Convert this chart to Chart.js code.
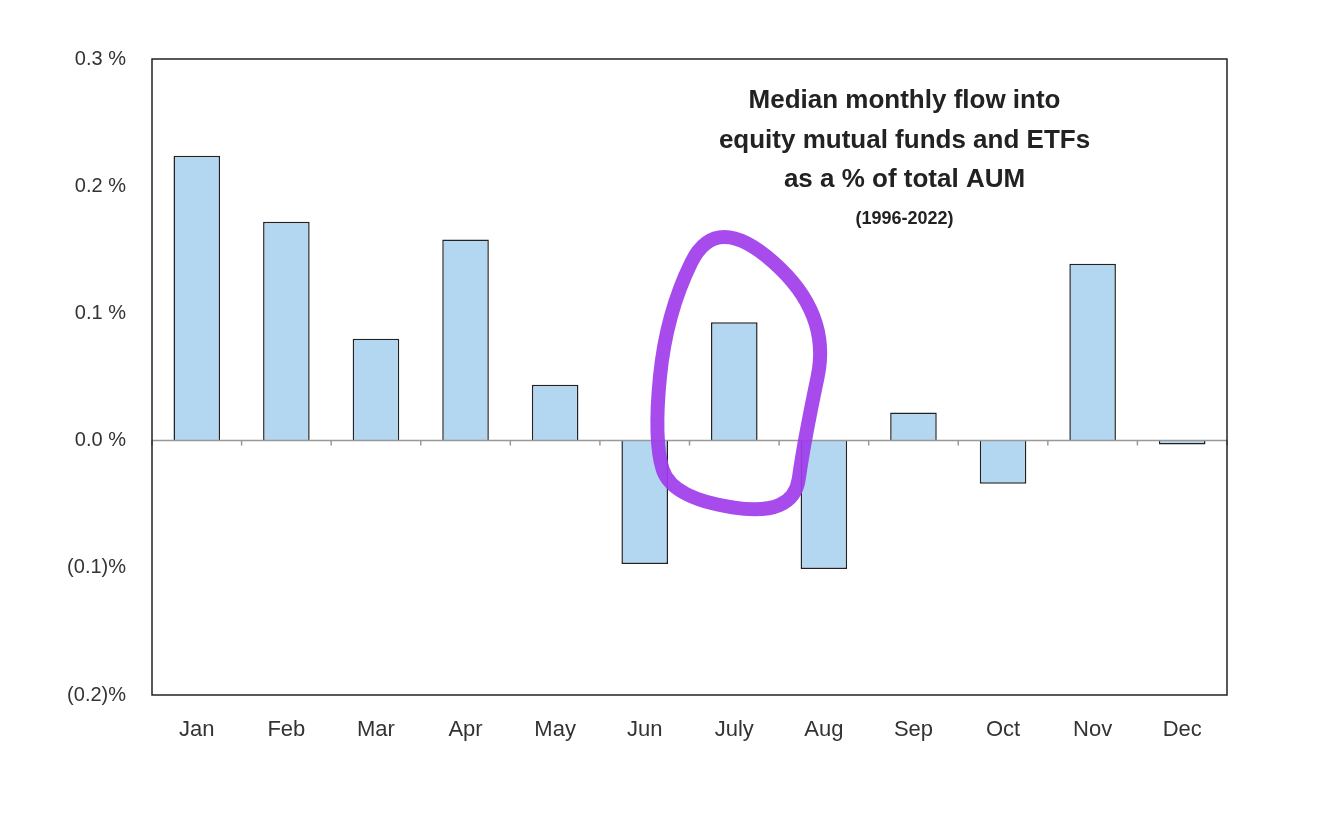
<!DOCTYPE html>
<html><head><meta charset="utf-8">
<script src="https://cdn.jsdelivr.net/npm/chart.js@4/dist/chart.umd.min.js"></script>
<style>html,body{margin:0;background:#fff}#wrap{width:1324px;height:824px}</style>
</head><body><div id="wrap"><canvas id="c"></canvas></div>
<script>
// median monthly flow, % of AUM
const months = ["Jan","Feb","Mar","Apr","May","Jun","July","Aug","Sep","Oct","Nov","Dec"];
const flows = [0.224,0.172,0.080,0.158,0.044,-0.097,0.093,-0.101,0.022,-0.034,0.139,-0.003];
const yTicks = [0.3,0.2,0.1,0.0,-0.1,-0.2];
const tickText = v => v<0 ? "("+Math.abs(v).toFixed(1)+")%" : v.toFixed(1)+" %";
const titleLines = ["Median monthly flow into","equity mutual funds and ETFs","as a % of total AUM"];
const subTitle = "(1996-2022)";

const frame = {
  id:"frame",
  afterDatasetsDraw(chart){
    const {ctx,chartArea:a,scales:{x,y}} = chart;
    ctx.save();
    // zero line ticks at category boundaries
    const y0=y.getPixelForValue(0), cw=x.getPixelForValue(1)-x.getPixelForValue(0);
    ctx.strokeStyle="#999";ctx.lineWidth=1.5;
    ctx.beginPath();ctx.moveTo(a.left,y0);ctx.lineTo(a.right,y0);
    for(let i=0;i<=months.length;i++){const px=x.getPixelForValue(i)-cw/2;ctx.moveTo(px,y0);ctx.lineTo(px,y0+5);}
    ctx.stroke();
    ctx.strokeStyle="#222";ctx.lineWidth=1.5;ctx.strokeRect(a.left,a.top,a.right-a.left,a.bottom-a.top);
    // title
    ctx.fillStyle="#222";ctx.textAlign="center";ctx.textBaseline="middle";
    ctx.font="bold 26px 'Liberation Sans', Arial";
    const tx=a.left+(a.right-a.left)*0.70;
    titleLines.forEach((t,i)=>ctx.fillText(t,tx,a.top+42+i*39.5));
    ctx.font="bold 18px 'Liberation Sans', Arial";
    ctx.fillText(subTitle,tx,a.top+160);
    // hand-drawn loop around July
    const j=months.indexOf("July"), cx=x.getPixelForValue(j);
    const pts=[[-0.2,0.18],[1.08,0.1],[0.78,0.0],[0.66,-0.06],[-0.70,-0.045],[-0.9,0.0],[-0.76,0.1]]
      .map(([dx,v])=>[cx+dx*cw,y.getPixelForValue(v)]);
    ctx.strokeStyle="rgba(160,60,235,0.92)";ctx.lineWidth=14;ctx.lineJoin="round";ctx.lineCap="round";
    ctx.beginPath();
    const n=pts.length, mid=(p,q)=>[(p[0]+q[0])/2,(p[1]+q[1])/2];
    let m=mid(pts[n-1],pts[0]);ctx.moveTo(m[0],m[1]);
    for(let i=0;i<n;i++){const q=mid(pts[i],pts[(i+1)%n]);ctx.quadraticCurveTo(pts[i][0],pts[i][1],q[0],q[1]);}
    ctx.stroke();
    ctx.restore();
  }
};

new Chart(document.getElementById("c"),{
  type:"bar",
  data:{labels:months,datasets:[{data:flows,backgroundColor:"#b3d7f1",borderColor:"#222",borderWidth:1.5,
    barPercentage:0.52,categoryPercentage:1}]},
  options:{responsive:true,maintainAspectRatio:false,animation:false,
    layout:{padding:{top:59,right:97,bottom:69,left:0}},
    plugins:{legend:{display:false},tooltip:{enabled:false}},
    scales:{
      x:{grid:{display:false},border:{display:false},
        ticks:{color:"#333",font:{family:"'Liberation Sans', Arial",size:22},padding:14},
        afterFit(s){s.height=60;}},
      y:{min:-0.2,max:0.3,grid:{display:false},border:{display:false},
        afterBuildTicks(s){s.ticks=yTicks.map(v=>({value:v}));},
        ticks:{color:"#333",font:{family:"'Liberation Sans', Arial",size:20},padding:18,callback:v=>tickText(v)},
        afterFit(s){s.width=152;}}
    }},
  plugins:[frame]
});
</script></body></html>
